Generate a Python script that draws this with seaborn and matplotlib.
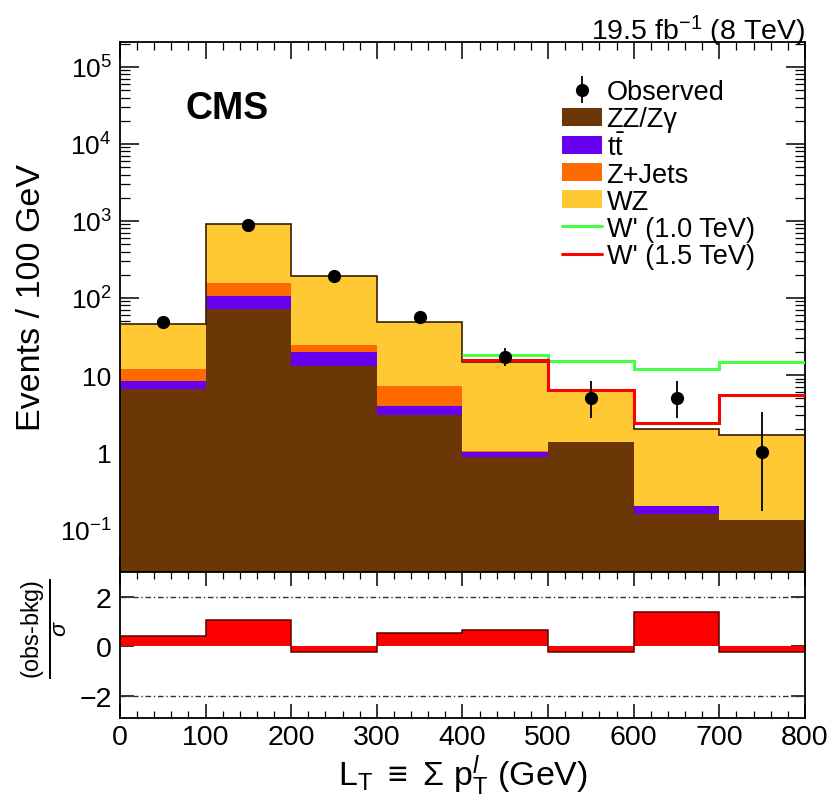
import numpy as np
import pandas as pd
import matplotlib
matplotlib.use("Agg")
import matplotlib.pyplot as plt
import seaborn as sns
from matplotlib.patches import Patch
from matplotlib.lines import Line2D
from matplotlib.ticker import MultipleLocator, FixedLocator, FixedFormatter, LogLocator, NullFormatter

# ---- data: L_T distribution, 100 GeV bins ----
edges = [0, 100, 200, 300, 400, 500, 600, 700, 800]
centers = [50, 150, 250, 350, 450, 550, 650, 750]

zz_zgamma = [6.6, 72.0, 13.0, 3.0, 0.87, 1.37, 0.155, 0.13]
ttbar = [1.7, 35.0, 7.0, 1.0, 0.13, 0.0, 0.045, 0.0]
z_jets = [3.7, 48.0, 4.6, 3.2, 0.02, 0.0, 0.0, 0.0]
wz = [34.0, 755.0, 170.0, 42.0, 13.7, 4.8, 1.8, 1.53]

observed = [49, 880, 190, 56, 17, 5, 5, 1]
obs_err_lo = [7.0, 29.6, 13.8, 7.5, 4.1, 2.2, 2.2, 0.83]
obs_err_hi = [8.0, 30.7, 14.8, 8.5, 5.2, 3.4, 3.4, 2.3]

# signal + background expectation above 400 GeV
sig_edges = [400, 500, 600, 700, 800]
wprime_10 = [18.0, 15.0, 12.0, 14.7]
wprime_15 = [15.5, 6.4, 2.4, 5.5]

pull = [0.40, 1.08, -0.22, 0.55, 0.64, -0.22, 1.38, -0.22]

processes = ["WZ", "Z+Jets", "ttbar", "ZZ/Zgamma"]
colors = {"WZ": "#ffc933", "Z+Jets": "#ff6a00", "ttbar": "#6600ee",
          "ZZ/Zgamma": "#6b3706"}

df = pd.DataFrame({
    "LT": centers * 4,
    "events": wz + z_jets + ttbar + zz_zgamma,
    "process": sum([[p] * len(centers) for p in processes], []),
})

# ---- style ----
sns.set_theme(style="ticks")
plt.rcParams["font.family"] = ["Liberation Sans", "DejaVu Sans"]
plt.rcParams["mathtext.fontset"] = "custom"
plt.rcParams["mathtext.rm"] = "Liberation Sans"
plt.rcParams["mathtext.it"] = "Liberation Sans:italic"
plt.rcParams["mathtext.bf"] = "Liberation Sans:bold"
plt.rcParams["axes.linewidth"] = 1.3
plt.rcParams["axes.edgecolor"] = "black"
for key in ("text.color", "axes.labelcolor", "xtick.color", "ytick.color",
            "xtick.labelcolor", "ytick.labelcolor"):
    plt.rcParams[key] = "black"

fig = plt.figure(figsize=(8.38, 8.12), dpi=100)
ax = fig.add_axes([0.1432, 0.2943, 0.8174, 0.6527])
axr = fig.add_axes([0.1432, 0.1145, 0.8174, 0.1798], sharex=ax)

# ---- stacked background ----
ax.set_yscale("log")
sns.histplot(data=df, x="LT", weights="events", hue="process",
             hue_order=processes, palette=colors, multiple="stack",
             bins=edges, element="bars", shrink=1.0, alpha=1.0,
             linewidth=0, edgecolor="none", legend=False, ax=ax)

total = np.array(zz_zgamma) + np.array(ttbar) + np.array(z_jets) + np.array(wz)
ax.stairs(total, edges, baseline=None, color="#3a1e00", lw=1.2, zorder=3)

ax.stairs(wprime_10, sig_edges, baseline=None, color="#44ff44", lw=2.2, zorder=4)
ax.stairs(wprime_15, sig_edges, baseline=None, color="#ff0000", lw=2.2, zorder=4)

obs = ax.errorbar(centers, observed, yerr=[obs_err_lo, obs_err_hi], fmt="o",
                  color="black", ms=8.5, elinewidth=1.3, capsize=0, zorder=5)

ax.set_xlim(0, 800)
ax.set_ylim(0.0277, 2.1e5)
ax.set_xlabel("")
ax.set_ylabel("Events / 100 GeV", fontsize=24.5)
ax.yaxis.set_label_coords(-0.106, 0.52)

ytick_vals = [1e-1, 1, 10, 1e2, 1e3, 1e4, 1e5]
ytick_labs = [r"$\mathregular{10^{-1}}$", "1", "10", r"$\mathregular{10^{2}}$",
              r"$\mathregular{10^{3}}$", r"$\mathregular{10^{4}}$", r"$\mathregular{10^{5}}$"]
ax.yaxis.set_major_locator(FixedLocator(ytick_vals))
ax.yaxis.set_major_formatter(FixedFormatter(ytick_labs))
ax.yaxis.set_minor_locator(LogLocator(base=10, subs=np.arange(2, 10), numticks=20))
ax.yaxis.set_minor_formatter(NullFormatter())
ax.xaxis.set_major_locator(MultipleLocator(100))
ax.xaxis.set_minor_locator(MultipleLocator(20))
ax.tick_params(axis="both", which="both", direction="in", top=True, right=True,
               color="black")
ax.tick_params(axis="y", which="major", length=14, width=1.1, labelsize=19, pad=6)
ax.tick_params(axis="y", which="minor", length=7, width=0.9)
ax.tick_params(axis="x", which="major", length=12, width=1.1, labelbottom=False)
ax.tick_params(axis="x", which="minor", length=6, width=0.9)

ax.text(0.095, 0.91, "CMS", transform=ax.transAxes, fontsize=27,
        fontweight="bold", ha="left", va="top")
fig.text(0.9606, 1 - 40 / 812, r"19.5 fb$^{\mathregular{-1}}$ (8 TeV)",
         fontsize=20.5, ha="right", va="baseline")

handles = [
    obs,
    Patch(facecolor=colors["ZZ/Zgamma"], edgecolor="none"),
    Patch(facecolor=colors["ttbar"], edgecolor="none"),
    Patch(facecolor=colors["Z+Jets"], edgecolor="none"),
    Patch(facecolor=colors["WZ"], edgecolor="none"),
    Line2D([], [], color="#44ff44", lw=2.2),
    Line2D([], [], color="#ff0000", lw=2.2),
]
labels = ["Observed", "ZZ/Z\u03b3", r"t$\mathregular{\bar{t}}$", "Z+Jets", "WZ",
          "W' (1.0 TeV)", "W' (1.5 TeV)"]
ax.legend(handles, labels, loc="upper left", bbox_to_anchor=(0.645, 0.93),
          frameon=False, fontsize=19.5, handlelength=1.5, handleheight=0.65,
          handletextpad=0.15, labelspacing=0.04, borderpad=0, borderaxespad=0)

# ---- pull panel ----
sns.histplot(x=centers, weights=pull, bins=edges, element="bars", shrink=1.0,
             color="#ff0000", alpha=1.0, linewidth=0, edgecolor="none", ax=axr)
axr.stairs(pull, edges, baseline=None, color="#5a0000", lw=1.1, zorder=3)
for lvl in (2, -2):
    axr.axhline(lvl, color="#333333", lw=1.0, ls=(0, (4, 2, 1, 2)), zorder=1)

axr.set_ylim(-2.9, 3.0)
axr.set_xlim(0, 800)
axr.set_ylabel(r"$\frac{\mathregular{(obs\text{-}bkg)}}{\sigma}$", fontsize=24)
axr.yaxis.set_label_coords(-0.072, 0.62)
axr.set_xlabel(r"L$_\mathregular{T}$ $\equiv$ $\Sigma$ p$_\mathregular{T}^{\mathit{l}}$ (GeV)",
               fontsize=24.5, labelpad=2)
axr.yaxis.set_major_locator(FixedLocator([-2, 0, 2]))
axr.xaxis.set_major_locator(MultipleLocator(100))
axr.xaxis.set_minor_locator(MultipleLocator(20))
axr.tick_params(axis="both", which="both", direction="in", top=True, right=True,
                color="black")
axr.tick_params(axis="x", which="major", length=10, width=1.1, labelsize=20.5, pad=4)
axr.tick_params(axis="x", which="minor", length=5, width=0.9)
axr.tick_params(axis="y", which="major", length=10, width=1.1, labelsize=20.5, pad=6)

fig.savefig("out.png", dpi=100, facecolor="white")
